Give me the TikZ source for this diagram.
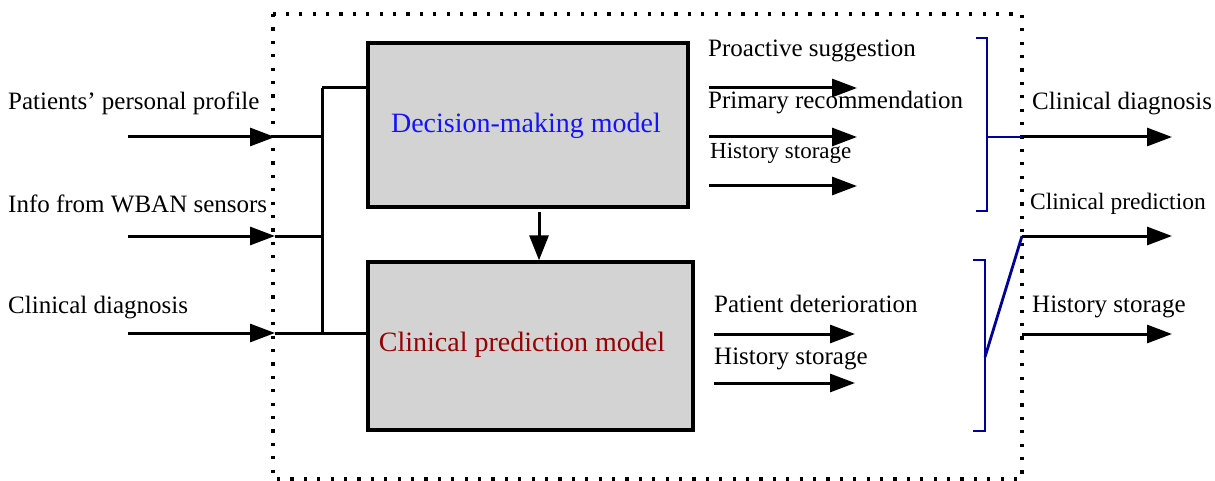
\documentclass[tikz,border=0pt]{standalone}
\usepackage{fontspec}
\setmainfont{Liberation Serif}
\usetikzlibrary{arrows.meta}
\definecolor{boxgray}{RGB}{211,211,211}
\definecolor{bracketblue}{RGB}{0,0,150}
\definecolor{decblue}{RGB}{20,20,250}
\definecolor{preddred}{RGB}{150,0,0}
\begin{document}
\begin{tikzpicture}[x=1pt,y=-1pt,
  modelbox/.style={draw=black, line width=3.4pt, fill=boxgray, rectangle, inner sep=0pt},
  boxtext/.style={font=\fontsize{28}{33}\selectfont, inner sep=0pt},
  lbl/.style={font=\fontsize{25}{30}\selectfont, anchor=base west, inner sep=0pt},
  smalllbl/.style={font=\fontsize{23}{28}\selectfont, anchor=base west, inner sep=0pt},
  wire/.style={line width=3pt, black},
  flow/.style={wire, -{Triangle[length=25pt, width=18pt]}},
  brk/.style={line width=2.8pt, bracketblue},
  boundary/.style={line width=3.2pt, dash pattern=on 3.2pt off 10.2pt}]
\useasboundingbox (0,0) rectangle (1215,481);

% system boundary
\draw[boundary] (273,14) rectangle (1022,479);

% the two models
\node[modelbox, minimum width=320pt, minimum height=164pt] (dm) at (528,125) {};
\node[boxtext, text=decblue] (dmtext) at (526,126) {Decision-making model};
\node[modelbox, minimum width=325pt, minimum height=168pt] (cp) at (530.5,346) {};
\node[boxtext, text=preddred] (cptext) at (522,345) {Clinical prediction model};

% inputs
\node[lbl] (inAlbl) at (8,110) {Patients’ personal profile};
\node[lbl] (inBlbl) at (8,212) {Info from WBAN sensors};
\node[lbl] (inClbl) at (8,313) {Clinical diagnosis};

\coordinate (inA) at (128,137); \coordinate (tipA) at (275,137); \coordinate (busA) at (322,137);
\coordinate (inB) at (128,236); \coordinate (tipB) at (275,236); \coordinate (busB) at (322,236);
\coordinate (inC) at (128,333); \coordinate (tipC) at (275,333); \coordinate (busC) at (322,333);
\coordinate (busT) at (322,88);

\foreach \s in {A,B,C}{
  \draw[flow] (in\s) -- (tip\s);
  \draw[wire] (tip\s) -- (bus\s);
}
\draw[wire] (busT) -- (busC);
\draw[wire] (busT) -- (busT -| dm.west);
\draw[wire] (busC) -- (busC -| cp.west);

% decision model feeds the prediction model
\coordinate (down) at (539,0);
\draw[wire, -{Triangle[length=25pt, width=19pt]}, shorten <=3pt] (dm.south -| down) -- (cp.north -| down);

% decision model outputs
\node[lbl] (dA) at (708,57) {Proactive suggestion};
\node[lbl] (dB) at (708,109) {Primary recommendation};
\node[smalllbl] (dC) at (710,159) {History storage};
\coordinate (dA0) at (709,88);  \coordinate (dA1) at (857,88);
\coordinate (dB0) at (709,137); \coordinate (dB1) at (857,137);
\coordinate (dC0) at (709,186); \coordinate (dC1) at (857,186);
\draw[flow] (dA0) -- (dA1);
\draw[flow] (dB0) -- (dB1);
\draw[flow] (dC0) -- (dC1);

% prediction model outputs
\node[lbl] (pA) at (714,312) {Patient deterioration};
\node[lbl] (pB) at (714,364) {History storage};
\coordinate (pA0) at (714,334); \coordinate (pA1) at (855,334);
\coordinate (pB0) at (714,383); \coordinate (pB1) at (855,383);
\draw[flow] (pA0) -- (pA1);
\draw[flow] (pB0) -- (pB1);

% output brackets
\coordinate (bk1m) at (987,137);
\coordinate (out1) at (1022,137);
\draw[brk] (976,38) -- (987,38) -- (987,211) -- (976,211);
\draw[brk] (bk1m) -- (out1);

\coordinate (bk2m) at (985,357);
\coordinate (out2) at (1022,236);
\draw[brk] (973,260) -- (985,260) -- (985,431) -- (973,431);
\draw[brk] (bk2m) -- (out2);
\coordinate (out3) at (1022,334);

% system outputs
\node[lbl] (oA) at (1032,110) {Clinical diagnosis};
\node[lbl, font=\fontsize{23.5}{28}\selectfont] (oB) at (1030,210) {Clinical prediction};
\node[lbl] (oC) at (1032,312) {History storage};
\coordinate (oA1) at (1172,137);
\coordinate (oB1) at (1172,236);
\coordinate (oC1) at (1172,334);
\draw[flow] (out1) -- (oA1);
\draw[flow] (out2) -- (oB1);
\draw[flow] (out3) -- (oC1);
\end{tikzpicture}
\end{document}
